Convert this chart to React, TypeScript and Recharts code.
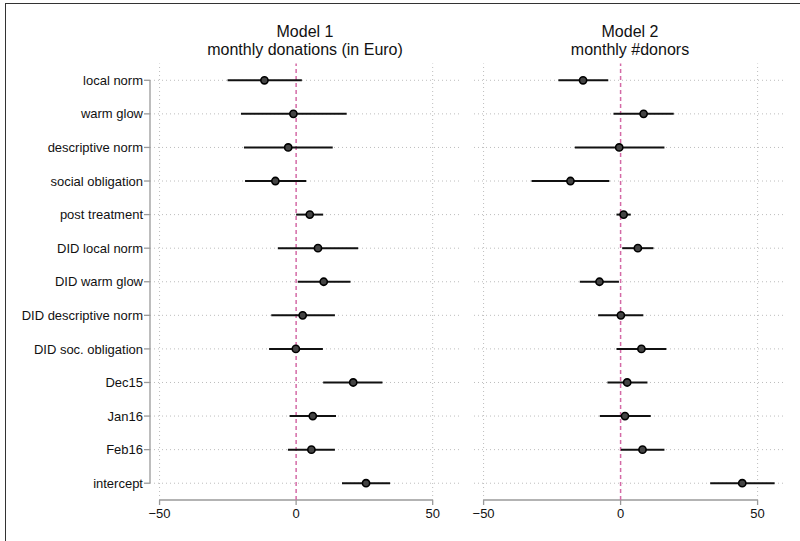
import React from "react";
import { ScatterChart, Scatter, XAxis, YAxis, ErrorBar, ReferenceLine } from "recharts";

const terms = [
  "local norm",
  "warm glow",
  "descriptive norm",
  "social obligation",
  "post treatment",
  "DID local norm",
  "DID warm glow",
  "DID descriptive norm",
  "DID soc. obligation",
  "Dec15",
  "Jan16",
  "Feb16",
  "intercept",
];

// Model 1: monthly donations (in Euro)
const m1Coef = [-11.6, -1.0, -2.9, -7.6, 5.0, 8.0, 10.1, 2.4, -0.1, 20.9, 6.1, 5.6, 25.6];
const m1Low = [-25.1, -20.2, -19.1, -18.7, 0.0, -6.7, 0.6, -9.1, -9.9, 9.9, -2.4, -3.0, 16.8];
const m1High = [2.1, 18.5, 13.4, 3.7, 9.9, 22.7, 19.9, 14.2, 9.8, 31.6, 14.6, 14.2, 34.4];

// Model 2: monthly #donors
const m2Coef = [-13.7, 8.4, -0.5, -18.3, 1.1, 6.3, -7.7, 0.1, 7.6, 2.4, 1.6, 8.0, 44.4];
const m2Low = [-22.7, -2.6, -16.7, -32.5, -1.5, 0.6, -14.9, -8.2, -1.5, -4.8, -7.6, 0.1, 32.7];
const m2High = [-4.5, 19.4, 16.0, -4.1, 3.7, 12.0, -0.6, 8.3, 16.7, 9.8, 11.0, 16.0, 56.2];

const xTicks = [-50, 0, 50];
const xDomain = [-53.5, 60];
const titles = [
  ["Model 1", "monthly donations (in Euro)"],
  ["Model 2", "monthly #donors"],
];

const FONT = "'Liberation Sans', Arial, sans-serif";
const AXIS = "#9a9a9a";
const GRID = "#bdbdbd";
const PINK = "#d46aa6";

const rowIdx = terms.map((_, i) => i);

function buildRows(coef: number[], low: number[], high: number[]) {
  return terms.map((name, i) => ({
    name,
    y: i,
    coef: coef[i],
    err: [coef[i] - low[i], high[i] - coef[i]],
  }));
}

const Dot = (props: any) => {
  const { cx, cy } = props;
  if (cx == null || cy == null) return null;
  return <circle cx={cx} cy={cy} r={3.6} fill="#444" stroke="#000" strokeWidth={1.6} />;
};

function Panel({
  coef,
  low,
  high,
  labels,
  width,
  margin,
}: {
  coef: number[];
  low: number[];
  high: number[];
  labels: boolean;
  width: number;
  margin: { top: number; right: number; bottom: number; left: number };
}) {
  const rows = buildRows(coef, low, high);
  return (
    <ScatterChart width={width} height={541} margin={margin}>
      <XAxis
        type="number"
        dataKey="coef"
        domain={xDomain}
        allowDataOverflow
        ticks={xTicks}
        tickFormatter={(v: number) => (v < 0 ? `\u2212${Math.abs(v)}` : `${v}`)}
        axisLine={false}
        tickLine={{ stroke: AXIS, strokeWidth: 1.3 }}
        tickSize={5}
        tickMargin={4}
        height={41}
        tick={{ fontSize: 13, fill: "#111", fontFamily: FONT }}
      />
      <YAxis
        type="number"
        dataKey="y"
        domain={[-0.5, 12.5]}
        allowDataOverflow
        reversed
        ticks={rowIdx}
        interval={0}
        tickFormatter={(i: number) => terms[i]}
        hide={!labels}
        width={labels ? 150 : 0}
        axisLine={false}
        tickLine={{ stroke: AXIS, strokeWidth: 1.3 }}
        tickSize={6}
        tickMargin={1}
        tick={{ fontSize: 13, fill: "#111", fontFamily: FONT }}
      />
      {/* dotted grid: one line per coefficient row, one per outer x tick */}
      {rowIdx.map((i) => (
        <ReferenceLine key={`h${i}`} y={i} stroke={GRID} strokeDasharray="1 3" />
      ))}
      {xTicks
        .filter((t) => t !== 0)
        .map((t) => (
          <ReferenceLine key={`v${t}`} x={t} stroke={GRID} strokeDasharray="1 3" />
        ))}
      {labels && (
        <ReferenceLine
          segment={[
            { x: xDomain[0], y: 0 },
            { x: xDomain[0], y: 12 },
          ]}
          stroke={AXIS}
          strokeWidth={1.3}
        />
      )}
      <ReferenceLine
        segment={[
          { x: -50, y: 12.5 },
          { x: 50, y: 12.5 },
        ]}
        stroke={AXIS}
        strokeWidth={1.3}
      />
      <ReferenceLine x={0} stroke={PINK} strokeWidth={1.5} strokeDasharray="4 3" />
      <Scatter data={rows} shape={<Dot />} isAnimationActive={false}>
        <ErrorBar dataKey="err" direction="x" width={0} stroke="#111" strokeWidth={2} />
      </Scatter>
    </ScatterChart>
  );
}

export default function App() {
  const titleStyle = (cx: number): React.CSSProperties => ({
    position: "absolute",
    left: cx - 150,
    width: 300,
    top: 23,
    textAlign: "center",
    fontFamily: FONT,
    fontSize: 16,
    lineHeight: "18px",
    color: "#111",
  });
  return (
    <div
      style={{
        position: "absolute",
        left: 0,
        top: 0,
        width: 800,
        height: 541,
        overflow: "hidden",
        background: "#fff",
      }}
    >
      <div
        style={{
          position: "absolute",
          left: 5,
          top: 3,
          width: 900,
          height: 700,
          borderLeft: "1.5px solid #333",
          borderTop: "1.5px solid #333",
        }}
      />
      <div style={titleStyle(305)}>
        {titles[0][0]}
        <br />
        {titles[0][1]}
      </div>
      <div style={titleStyle(630)}>
        {titles[1][0]}
        <br />
        {titles[1][1]}
      </div>
      <div style={{ position: "absolute", left: 0, top: 0 }}>
        <Panel
          coef={m1Coef}
          low={m1Low}
          high={m1High}
          labels
          width={470}
          margin={{ top: 63.5, right: 10, bottom: 0, left: 0 }}
        />
      </div>
      <div style={{ position: "absolute", left: 464, top: 0 }}>
        <Panel
          coef={m2Coef}
          low={m2Low}
          high={m2High}
          labels={false}
          width={336}
          margin={{ top: 63.5, right: 15, bottom: 0, left: 10 }}
        />
      </div>
    </div>
  );
}
